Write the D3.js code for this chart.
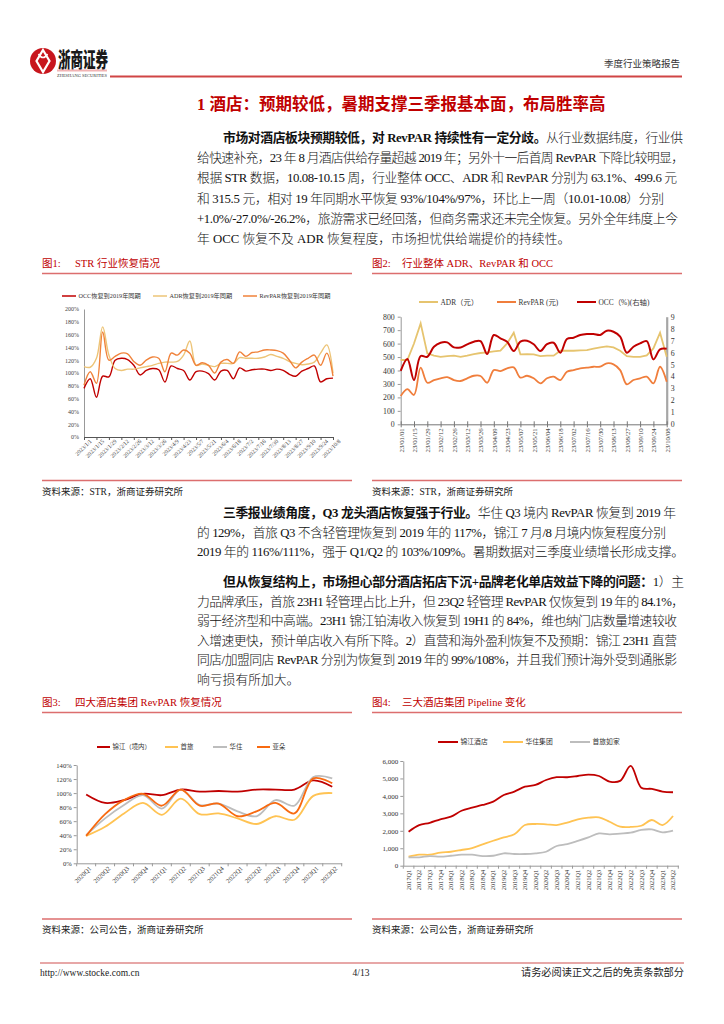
<!DOCTYPE html>
<html>
<head>
<meta charset="utf-8">
<script src="https://cdn.jsdelivr.net/npm/d3@7"></script>
<style>
  body { margin: 0; background: #fff; }
  svg text { font-family: "Liberation Serif", "Noto Sans CJK SC", serif; }
</style>
</head>
<body>
<script>
// ---------- data ----------
// fig 1: weekly recovery vs same week of 2019 (%)
const fig1Ticks = ["2023/1/1","2023/1/15","2023/1/29","2023/2/12","2023/2/26","2023/3/12","2023/3/26","2023/4/9","2023/4/23","2023/5/7","2023/5/21","2023/6/4","2023/6/18","2023/7/2","2023/7/16","2023/7/30","2023/8/13","2023/8/27","2023/9/10","2023/9/24","2023/10/8"];
const occRec = [76,91,62,95,94,120,123,121,112,97,104,107,105,86,111,107,104,89,102,103,99,89,103,104,91,108,103,105,106,106,104,106,104,98,95,103,107,111,86,91,92];
const adrRec = [110,109,123,172,128,107,104,106,106,108,110,112,115,117,117,118,128,150,112,114,112,110,115,115,115,124,123,123,123,125,129,126,123,118,115,113,114,117,131,144,100];
const revRec = [81,102,84,164,120,126,131,130,118,112,120,125,123,102,131,128,136,131,112,116,112,100,117,121,115,133,126,132,133,136,136,135,131,120,108,117,123,128,112,131,95];
const fig1Names = ["OCC恢复到2019年同期","ADR恢复到2019年同期","RevPAR恢复到2019年同期"];

// fig 2: weekly ADR / RevPAR (元) and OCC (%)
const fig2Ticks = ["23/01/01","23/01/15","23/01/29","23/02/12","23/02/26","23/03/12","23/03/26","23/04/09","23/04/23","23/05/07","23/05/21","23/06/04","23/06/18","23/07/02","23/07/16","23/07/30","23/08/13","23/08/27","23/09/10","23/09/24","23/10/08"];
const adr = [478,478,601,750,527,510,502,507,510,502,510,522,530,535,542,547,601,681,520,522,520,507,510,510,547,547,547,550,552,562,572,579,572,547,507,502,502,512,564,681,502];
const revpar = [210,262,218,421,309,329,342,351,329,322,342,361,359,309,403,396,416,423,347,361,342,304,342,354,329,391,403,416,421,428,428,453,446,403,297,329,342,354,304,428,317];
const occ = [44.6,54.6,37.0,57.1,56.5,64.9,68.2,68.5,64.3,64.3,66.9,69.1,69.6,58.8,74.7,71.9,69.1,61.3,69.1,69.9,66.9,61.3,67.1,68.2,59.9,71.3,72.4,74.7,75.5,75.5,74.7,78.3,77.4,73.3,59.9,64.9,67.7,69.6,54.3,62.7,63.1];
const fig2Names = ["ADR（元）","RevPAR (元)","OCC（%)(右轴)"];

// fig 3: RevPAR recovery of four hotel groups (%)
const fig3Quarters = ["2020Q1","2020Q2","2020Q3","2020Q4","2021Q1","2021Q2","2021Q3","2021Q4","2022Q1","2022Q2","2022Q3","2022Q4","2023Q1","2023Q2"];
const jinjiangRec = [98,86,90,99,97,105,102,103,102,105,105,105,118,109];
const shoulvRec = [39,52,71,86,69,92,70,71,64,56,67,62,96,100];
const huazhuRec = [40,64,83,97,78,105,83,85,74,67,90,82,123,121];
const atourRec = [39,70,90,99,82,105,82,85,67,74,86,71,121,114];
const fig3Names = ["锦江（境内）","首旅","华住","亚朵"];

// fig 4: pipeline of three hotel groups
const fig4Quarters = ["2017Q1","2017Q2","2017Q3","2017Q4","2018Q1","2018Q2","2018Q3","2018Q4","2019Q1","2019Q2","2019Q3","2019Q4","2020Q1","2020Q2","2020Q3","2020Q4","2021Q1","2021Q2","2021Q3","2021Q4","2022Q1","2022Q2","2022Q3","2022Q4","2023Q1","2023Q2"];
const jinjiangPipe = [1950,2330,2460,2660,2810,3150,3330,3480,3670,4050,4250,4530,4630,4910,5070,5070,5140,5220,5140,4820,4860,5720,4470,4400,4250,4210];
const huazhuPipe = [520,630,630,750,800,900,1010,1220,1430,1620,1800,2330,2390,2370,2330,2470,2660,2750,2770,2520,2240,2220,2290,2620,2330,2850];
const shoulvPipe = [480,480,550,520,570,630,630,550,570,710,670,670,710,800,1130,1240,1420,1620,1850,1800,1840,1890,2050,2080,1910,2010];
const fig4Names = ["锦江酒店","华住集团","首旅如家"];

// ---------- page ----------
const RED = "#C00000", RULE = "#DC6E6E";
const svg = d3.select("body").append("svg").attr("width", 724).attr("height", 1024);

// header
svg.append("circle").attr("cx", 43).attr("cy", 61).attr("r", 13).attr("fill", "#C8161D");
svg.append("path").attr("d", "M43,50 L49.5,61 L43,72 L36.5,61 Z").attr("fill", "none").attr("stroke", "#fff").attr("stroke-width", 2.2);
svg.append("path").attr("d", "M38.5,54 Q43,61 47.5,54").attr("fill", "none").attr("stroke", "#fff").attr("stroke-width", 1.6);
svg.append("text").attr("x", 58).attr("y", 67).attr("font-size", 21).attr("font-weight", 900)
  .attr("textLength", 50).attr("lengthAdjust", "spacingAndGlyphs").attr("fill", "#1a1a1a")
  .style("font-family", "'Noto Sans CJK SC'").text("浙商证券");
svg.append("rect").attr("x", 57).attr("y", 69.5).attr("width", 50).attr("height", 2).attr("fill", "#F2B3B3");
svg.append("text").attr("x", 57).attr("y", 76.5).attr("font-size", 4.4).attr("textLength", 50)
  .attr("lengthAdjust", "spacingAndGlyphs").attr("fill", "#333").text("ZHESHANG SECURITIES");
svg.append("line").attr("x1", 110).attr("x2", 682).attr("y1", 76.5).attr("y2", 76.5).attr("stroke", "#D04545").attr("stroke-width", 2);
svg.append("text").attr("x", 680).attr("y", 67).attr("text-anchor", "end").attr("font-size", 9.5).attr("fill", "#333").text("季度行业策略报告");

// section title
svg.append("text").attr("x", 197).attr("y", 110).attr("font-size", 16.5).attr("font-weight", 700)
  .attr("fill", RED).text("1 酒店：预期较低，暑期支撑三季报基本面，布局胜率高");

// body text, one justified line at a time
function para(lines, y0, lh) {
  lines.forEach((ln, i) => {
    const t = svg.append("text").attr("x", ln.x).attr("y", y0 + i * lh).attr("font-size", 12.8).attr("fill", "#111");
    if (ln.end) t.attr("textLength", ln.end - ln.x).attr("lengthAdjust", "spacing");
    ln.runs.forEach(r => t.append("tspan").attr("font-weight", r.b ? 700 : 300).text(r.t));
  });
}
para([
  {x: 223, end: 683, runs: [{b: 1, t: "市场对酒店板块预期较低，对 RevPAR 持续性有一定分歧。"}, {t: "从行业数据纬度，行业供"}]},
  {x: 197, end: 684, runs: [{t: "给快速补充，23 年 8 月酒店供给存量超越 2019 年；另外十一后首周 RevPAR 下降比较明显，"}]},
  {x: 197, end: 677, runs: [{t: "根据 STR 数据，10.08-10.15 周，行业整体 OCC、ADR 和 RevPAR 分别为 63.1%、499.6 元"}]},
  {x: 197, end: 664, runs: [{t: "和 315.5 元，相对 19 年同期水平恢复 93%/104%/97%，环比上一周（10.01-10.08）分别"}]},
  {x: 197, end: 678, runs: [{t: "+1.0%/-27.0%/-26.2%，旅游需求已经回落，但商务需求还未完全恢复。另外全年纬度上今"}]},
  {x: 197, runs: [{t: "年 OCC 恢复不及 ADR 恢复程度，市场担忧供给端提价的持续性。"}]}
], 142, 20.2);
para([
  {x: 223, end: 676, runs: [{b: 1, t: "三季报业绩角度，Q3 龙头酒店恢复强于行业。"}, {t: "华住 Q3 境内 RevPAR 恢复到 2019 年"}]},
  {x: 197, end: 666, runs: [{t: "的 129%，首旅 Q3 不含轻管理恢复到 2019 年的 117%，锦江 7 月/8 月境内恢复程度分别"}]},
  {x: 197, end: 684, runs: [{t: "2019 年的 116%/111%，强于 Q1/Q2 的 103%/109%。暑期数据对三季度业绩增长形成支撑。"}]}
], 517, 19.7);
para([
  {x: 223, end: 684, runs: [{b: 1, t: "但从恢复结构上，市场担心部分酒店拓店下沉+品牌老化单店效益下降的问题："}, {t: "1）主"}]},
  {x: 197, end: 684, runs: [{t: "力品牌承压，首旅 23H1 轻管理占比上升，但 23Q2 轻管理 RevPAR 仅恢复到 19 年的 84.1%，"}]},
  {x: 197, end: 677, runs: [{t: "弱于经济型和中高端。23H1 锦江铂涛收入恢复到 19H1 的 84%，维也纳门店数量增速较收"}]},
  {x: 197, end: 677, runs: [{t: "入增速更快，预计单店收入有所下降。2）直营和海外盈利恢复不及预期：锦江 23H1 直营"}]},
  {x: 197, end: 677, runs: [{t: "同店/加盟同店 RevPAR 分别为恢复到 2019 年的 99%/108%，并且我们预计海外受到通胀影"}]},
  {x: 197, runs: [{t: "响亏损有所加大。"}]}
], 586, 19.5);

// figure frames: title, rules, source
function frame(x, yTitle, yBottom, no, title, source) {
  svg.append("text").attr("x", x).attr("y", yTitle).attr("font-size", 10.5).attr("fill", RED).text("图" + no + ":");
  svg.append("text").attr("x", x + (x < 300 ? 33 : 30)).attr("y", yTitle).attr("font-size", 10.5).attr("fill", RED).text(title);
  svg.append("line").attr("x1", x).attr("x2", x + 310).attr("y1", yTitle + 6.5).attr("y2", yTitle + 6.5).attr("stroke", RULE).attr("stroke-width", 1.3);
  svg.append("line").attr("x1", x).attr("x2", x + 310).attr("y1", yBottom).attr("y2", yBottom).attr("stroke", RULE).attr("stroke-width", 1.3);
  svg.append("text").attr("x", x).attr("y", yBottom + 14).attr("font-size", 9.5).attr("fill", "#222").text(source);
}
frame(42, 267, 480.5, 1, "STR 行业恢复情况", "资料来源：STR，浙商证券研究所");
frame(372, 267, 480.5, 2, "行业整体 ADR、RevPAR 和 OCC", "资料来源：STR，浙商证券研究所");
frame(42, 706, 919, 3, "四大酒店集团 RevPAR 恢复情况", "资料来源：公司公告，浙商证券研究所");
frame(372, 706, 919, 4, "三大酒店集团 Pipeline 变化", "资料来源：公司公告，浙商证券研究所");

function legend(items, y, fs, lw) {
  items.forEach(it => {
    svg.append("line").attr("x1", it.x).attr("x2", it.x + it.w).attr("y1", y).attr("y2", y)
      .attr("stroke", it.c).attr("stroke-width", lw);
    svg.append("text").attr("x", it.x + it.w + 2.5).attr("y", y + fs * 0.36).attr("font-size", fs)
      .attr("fill", "#333").text(it.t);
  });
}
const smooth = d3.curveCatmullRom.alpha(0.5);

// ---------- fig 1 ----------
{
  const x = d3.scaleLinear().domain([0, occRec.length - 1]).range([84, 333]);
  const y = d3.scaleLinear().domain([0, 200]).range([437, 309]);
  const g = svg.append("g");
  g.append("g").attr("transform", "translate(84,0)")
    .call(d3.axisLeft(y).tickValues(d3.range(0, 201, 20)).tickFormat(d => d + "%").tickSize(0).tickPadding(5))
    .call(a => a.select(".domain").attr("stroke", "#999"))
    .call(a => a.selectAll("text").attr("font-size", 6).attr("fill", "#444").style("font-family", "'Liberation Serif'"));
  const xa = g.append("g").attr("transform", "translate(0,437)")
    .call(d3.axisBottom(x).tickValues(d3.range(0, occRec.length, 2)).tickFormat(d => fig1Ticks[d / 2]).tickSize(3).tickSizeOuter(0))
    .call(a => a.select(".domain").attr("stroke", "#555"))
    .call(a => a.selectAll("line").attr("stroke", "#555"));
  xa.selectAll("text").attr("font-size", 5.8).attr("fill", "#444").style("font-family", "'Liberation Serif'")
    .attr("text-anchor", "end").attr("transform", "translate(3,0) rotate(-45)").attr("dx", 0).attr("dy", "0.6em").attr("y", 3);
  const series = [[occRec, RED], [adrRec, "#EDC477"], [revRec, "#F0823A"]];
  series.forEach(([vals, c]) => {
    g.append("path").datum(vals).attr("fill", "none").attr("stroke", c).attr("stroke-width", 1.4)
      .attr("d", d3.line().x((d, i) => x(i)).y(d => y(d)).curve(smooth));
  });
  legend([
    {x: 62, w: 14, c: RED, t: fig1Names[0]},
    {x: 153, w: 14, c: "#EDC477", t: fig1Names[1]},
    {x: 243, w: 14, c: "#F0823A", t: fig1Names[2]}
  ], 296, 6.2, 1.5);
}

// ---------- fig 2 ----------
{
  const x = d3.scaleLinear().domain([0, adr.length - 1]).range([400.7, 666.7]);
  const yL = d3.scaleLinear().domain([0, 800]).range([424.3, 316.7]);
  const yR = d3.scaleLinear().domain([0, 90]).range([424.3, 316.7]);
  const g = svg.append("g");
  const font = a => a.selectAll("text").attr("font-size", 7.8).attr("fill", "#333").style("font-family", "'Liberation Serif'");
  g.append("g").attr("transform", "translate(400.7,0)")
    .call(d3.axisLeft(yL).tickValues(d3.range(0, 801, 100)).tickSize(3).tickSizeOuter(0).tickPadding(3))
    .call(a => a.selectAll("path,line").attr("stroke", "#999")).call(font);
  g.append("g").attr("transform", "translate(666.7,0)")
    .call(d3.axisRight(yR).tickValues(d3.range(0, 91, 10)).tickFormat(d => d / 10).tickSize(0).tickPadding(4))
    .call(a => a.select(".domain").attr("stroke", "#A6A6A6").attr("stroke-width", 2.2)).call(font);
  const xa = g.append("g").attr("transform", "translate(0,424.3)")
    .call(d3.axisBottom(x).tickValues(d3.range(0, adr.length, 2)).tickFormat(d => fig2Ticks[d / 2]).tickSize(3).tickSizeOuter(0))
    .call(a => a.selectAll("path,line").attr("stroke", "#777"));
  xa.selectAll(".tick line").attr("y1", -3);
  xa.selectAll("text").attr("font-size", 6.8).attr("fill", "#444").style("font-family", "'Liberation Serif'")
    .attr("text-anchor", "end").attr("transform", "rotate(-90)").attr("x", -4).attr("y", 0).attr("dy", "0.35em");
  g.append("path").datum(adr).attr("fill", "none").attr("stroke", "#E6C46F").attr("stroke-width", 1.8)
    .attr("d", d3.line().x((d, i) => x(i)).y(d => yL(d)));
  g.append("path").datum(revpar).attr("fill", "none").attr("stroke", "#F07E3C").attr("stroke-width", 1.8)
    .attr("d", d3.line().x((d, i) => x(i)).y(d => yL(d)).curve(smooth));
  g.append("path").datum(occ).attr("fill", "none").attr("stroke", RED).attr("stroke-width", 2)
    .attr("d", d3.line().x((d, i) => x(i)).y(d => yR(d)).curve(smooth));
  legend([
    {x: 419, w: 19, c: "#E6C46F", t: fig2Names[0]},
    {x: 497, w: 19, c: "#F07E3C", t: fig2Names[1]},
    {x: 577, w: 19, c: RED, t: fig2Names[2]}
  ], 302, 7.4, 2);
}

// ---------- fig 3 ----------
{
  const x = d3.scaleBand().domain(fig3Quarters).range([76.7, 341.7]);
  const y = d3.scaleLinear().domain([0, 140]).range([863.3, 765]);
  const g = svg.append("g");
  g.append("g").attr("transform", "translate(76.7,0)")
    .call(d3.axisLeft(y).tickValues(d3.range(0, 141, 20)).tickFormat(d => d + "%").tickSize(3).tickSizeOuter(0).tickPadding(2))
    .call(a => a.selectAll("path,line").attr("stroke", "#999"))
    .call(a => a.selectAll("text").attr("font-size", 6.6).attr("fill", "#333").style("font-family", "'Liberation Serif'"));
  const xa = g.append("g").attr("transform", "translate(0,863.3)")
    .call(d3.axisBottom(x).tickSize(0).tickSizeOuter(0))
    .call(a => a.select(".domain").attr("stroke", "#999"));
  xa.selectAll(".tick text").attr("font-size", 6.4).attr("fill", "#333").style("font-family", "'Liberation Serif'")
    .attr("text-anchor", "end").attr("transform", "translate(4,4) rotate(-45)").attr("y", 0).attr("dy", "0.35em");
  fig3Quarters.concat([null]).forEach((q, i) => {
    const bx = 76.7 + i * x.step();
    xa.append("line").attr("x1", bx).attr("x2", bx).attr("y1", 0).attr("y2", 3).attr("stroke", "#999");
  });
  const cols = [RED, "#FFC353", "#BDBDBD", "#F86A10"];
  [jinjiangRec, shoulvRec, huazhuRec, atourRec].forEach((vals, k) => {
    g.append("path").datum(vals).attr("fill", "none").attr("stroke", cols[k]).attr("stroke-width", 1.8)
      .attr("d", d3.line().x((d, i) => x(fig3Quarters[i]) + x.bandwidth() / 2).y(d => y(d)).curve(smooth));
  });
  legend([
    {x: 97, w: 13, c: cols[0], t: fig3Names[0]},
    {x: 165, w: 13, c: cols[1], t: fig3Names[1]},
    {x: 213, w: 14, c: cols[2], t: fig3Names[2]},
    {x: 257, w: 13, c: cols[3], t: fig3Names[3]}
  ], 747, 6.4, 2);
}

// ---------- fig 4 ----------
{
  const x = d3.scaleBand().domain(fig4Quarters).range([403.3, 678.3]);
  const y = d3.scaleLinear().domain([0, 6000]).range([865.7, 761]);
  const g = svg.append("g");
  g.append("g").attr("transform", "translate(403.3,0)")
    .call(d3.axisLeft(y).tickValues(d3.range(0, 6001, 1000)).tickFormat(d3.format(",")).tickSize(3).tickSizeOuter(0).tickPadding(2))
    .call(a => a.selectAll("path,line").attr("stroke", "#999"))
    .call(a => a.selectAll("text").attr("font-size", 7).attr("fill", "#333").style("font-family", "'Liberation Serif'"));
  const xa = g.append("g").attr("transform", "translate(0,865.7)")
    .call(d3.axisBottom(x).tickSize(0).tickSizeOuter(0))
    .call(a => a.select(".domain").attr("stroke", "#999"));
  xa.selectAll(".tick text").attr("font-size", 6.4).attr("fill", "#333").style("font-family", "'Liberation Serif'")
    .attr("text-anchor", "end").attr("transform", "rotate(-90)").attr("x", -4).attr("y", 0).attr("dy", "0.35em");
  fig4Quarters.concat([null]).forEach((q, i) => {
    const bx = 403.3 + i * x.step();
    xa.append("line").attr("x1", bx).attr("x2", bx).attr("y1", 0).attr("y2", 3).attr("stroke", "#999");
  });
  const cols = [RED, "#FFC353", "#BDBDBD"];
  [jinjiangPipe, huazhuPipe, shoulvPipe].forEach((vals, k) => {
    g.append("path").datum(vals).attr("fill", "none").attr("stroke", cols[k]).attr("stroke-width", 1.8)
      .attr("d", d3.line().x((d, i) => x(fig4Quarters[i]) + x.bandwidth() / 2).y(d => y(d)).curve(smooth));
  });
  legend([
    {x: 438, w: 20, c: cols[0], t: fig4Names[0]},
    {x: 503, w: 20, c: cols[1], t: fig4Names[1]},
    {x: 570, w: 20, c: cols[2], t: fig4Names[2]}
  ], 742, 6.8, 2);
}

// footer
svg.append("line").attr("x1", 40).attr("x2", 684).attr("y1", 963).attr("y2", 963).attr("stroke", "#D05050").attr("stroke-width", 1.2);
svg.append("text").attr("x", 40).attr("y", 976).attr("font-size", 9.5).attr("fill", "#222").text("http://www.stocke.com.cn");
svg.append("text").attr("x", 361).attr("y", 976).attr("text-anchor", "middle").attr("font-size", 9.5).attr("fill", "#222").text("4/13");
svg.append("text").attr("x", 684).attr("y", 976).attr("text-anchor", "end").attr("font-size", 10.2).attr("fill", "#222").text("请务必阅读正文之后的免责条款部分");
</script>
</body>
</html>
